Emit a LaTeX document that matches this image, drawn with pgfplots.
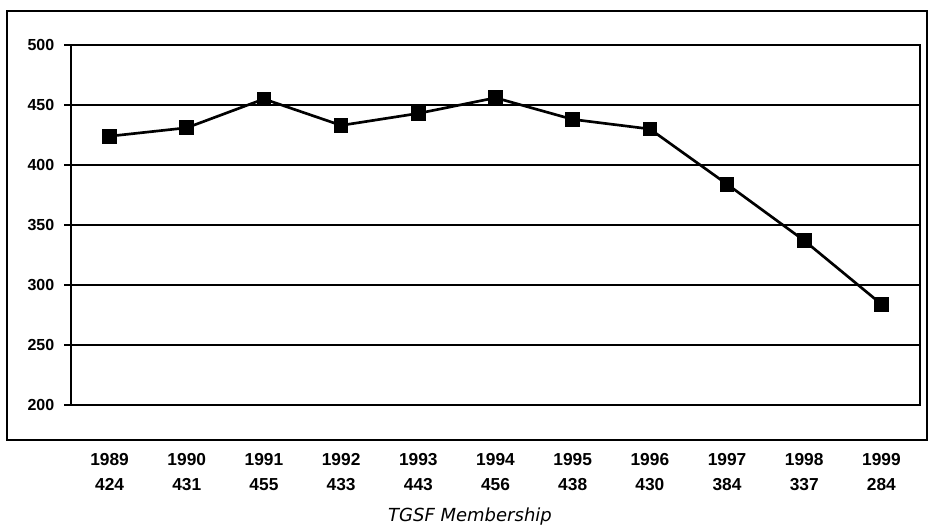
\documentclass[border=0pt]{standalone}
\usepackage{pgfplots}
\pgfplotsset{compat=1.18}
\usepackage{fontspec}
\setmainfont{Liberation Sans}
\newfontfamily\titlefont{DejaVu Sans}
\begin{document}
\begin{tikzpicture}
\useasboundingbox (0pt,0pt) rectangle (696pt,395.25pt);
\draw[line width=1.2pt] (5.25pt,65.25pt) rectangle (695.25pt,387pt);
\begin{axis}[
  at={(53.25pt,91.5pt)}, anchor=south west,
  scale only axis, width=636.75pt, height=270pt,
  xmin=-0.5, xmax=10.5, ymin=200, ymax=500,
  xtick={0,...,10},
  xticklabels={{1989\\424},{1990\\431},{1991\\455},{1992\\433},{1993\\443},{1994\\456},{1995\\438},{1996\\430},{1997\\384},{1998\\337},{1999\\284}},
  xticklabel style={align=center, font=\bfseries\fontsize{13}{19}\selectfont, yshift=-27.5pt},
  major x tick style={draw=none},
  ytick={200,250,...,500},
  yticklabel style={font=\bfseries\fontsize{12}{14}\selectfont, xshift=-4pt},
  /pgf/number format/assume math mode=true,
  ymajorgrids, grid style={black, line width=1.5pt},
  axis line style={line width=2pt},
  tick style={black, line width=1.5pt},
  major tick length=5pt,
  tick align=outside,
  xtick pos=bottom, ytick pos=left,
]
\addplot[black, line width=2pt, mark=square*, mark size=4.5pt] coordinates {
(0,424) (1,431) (2,455) (3,433) (4,443) (5,456) (6,438) (7,430) (8,384) (9,337) (10,284)};
\end{axis}
\node[font=\titlefont\itshape\fontsize{13.5}{16}\selectfont] at (352.5pt,8pt) {TGSF Membership};
\end{tikzpicture}
\end{document}
